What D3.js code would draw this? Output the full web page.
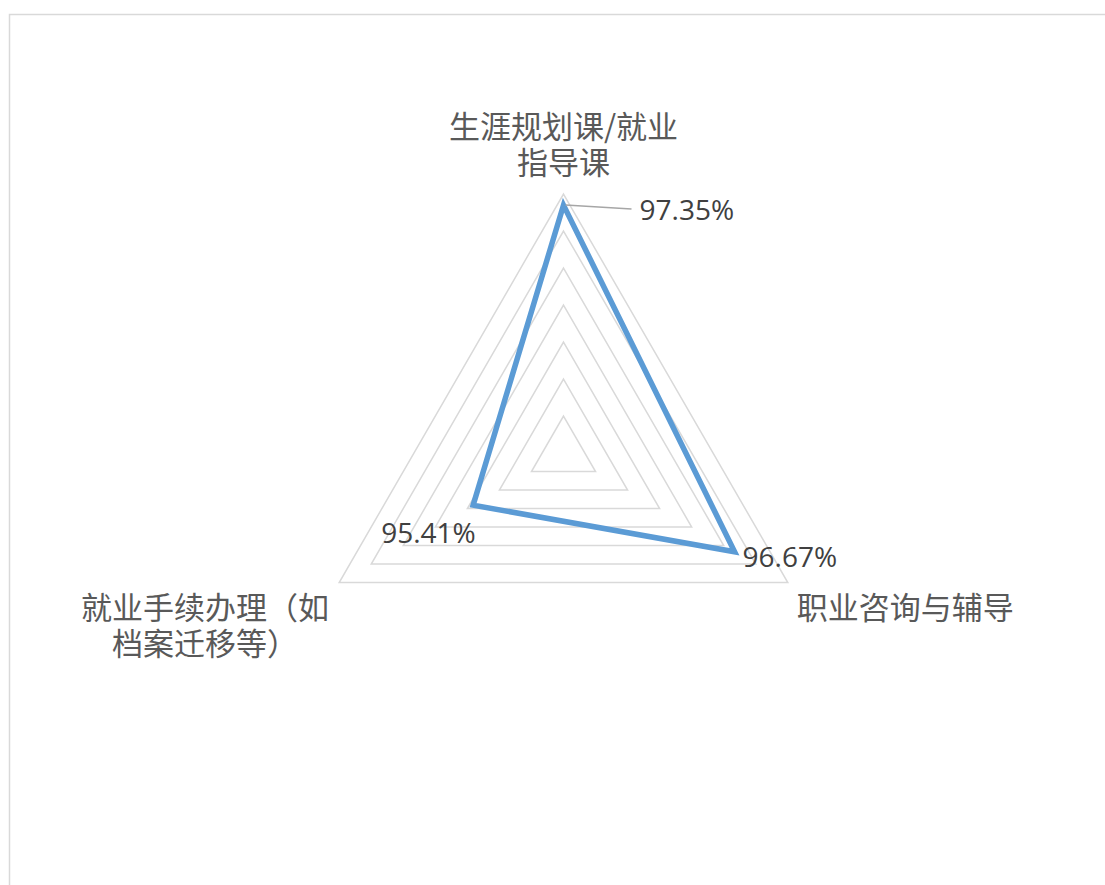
<!DOCTYPE html>
<html>
<head>
<meta charset="utf-8">
<script src="https://cdn.jsdelivr.net/npm/d3@7"></script>
<style>
  body { margin: 0; background: #fff; }
  svg { display: block; }
</style>
</head>
<body>
<svg id="chart" width="1105" height="885"></svg>
<script>
// data
const categories = ["生涯规划课/就业指导课", "职业咨询与辅导", "就业手续办理（如档案迁移等）"];
const categoryLines = [["生涯规划课/就业", "指导课"], ["职业咨询与辅导"], ["就业手续办理（如", "档案迁移等）"]];
const values = [0.9735, 0.9667, 0.9541];
const valueLabels = ["97.35%", "96.67%", "95.41%"];
const ringTicks = [0.945, 0.95, 0.955, 0.96, 0.965, 0.97, 0.975];

const svg = d3.select("#chart");
const cx = 563.5, cy = 453, R = 259;

const r = d3.scaleLinear().domain([0.94, 0.975]).range([0, R]);
const angle = i => i * 2 * Math.PI / categories.length;
const pt = (i, v) => [cx + r(v) * Math.sin(angle(i)), cy - r(v) * Math.cos(angle(i))];

// chart frame
svg.append("rect")
  .attr("x", 9.5).attr("y", 14.5)
  .attr("width", 1200).attr("height", 1000)
  .attr("fill", "none").attr("stroke", "#d9d9d9").attr("stroke-width", 1.5);

const g = svg.append("g").attr("transform", `translate(${cx},${cy})`);

// grid rings
const ringLine = d3.lineRadial().curve(d3.curveLinearClosed);
g.selectAll("path.ring")
  .data(ringTicks).enter()
  .append("path")
  .attr("class", "ring")
  .attr("d", t => ringLine(categories.map((c, i) => [angle(i), r(t)])))
  .attr("fill", "none")
  .attr("stroke", "#d9d9d9")
  .attr("stroke-width", 1.5);

// series
g.append("path")
  .datum(values)
  .attr("d", ringLine.angle((d, i) => angle(i)).radius(d => r(d)))
  .attr("fill", "none")
  .attr("stroke", "#5b9bd5")
  .attr("stroke-width", 5.5)
  .attr("stroke-linejoin", "miter");

// leader line for top label
const p0 = pt(0, values[0]);
svg.append("line")
  .attr("x1", p0[0] + 2).attr("y1", p0[1])
  .attr("x2", p0[0] + 68).attr("y2", p0[1] + 4)
  .attr("stroke", "#a6a6a6").attr("stroke-width", 1.5);

// value labels
const valueOffsets = [[76, 15], [8, 15], [-92, 38]];
svg.selectAll("text.val")
  .data(values).enter()
  .append("text")
  .attr("class", "val")
  .attr("x", (d, i) => pt(i, d)[0] + valueOffsets[i][0])
  .attr("y", (d, i) => pt(i, d)[1] + valueOffsets[i][1])
  .attr("font-family", "'Open Sans', sans-serif")
  .attr("font-size", 28)
  .attr("fill", "#404040")
  .text((d, i) => valueLabels[i]);

// category labels
const catPos = [
  { x: cx, y: cy - R - 56, anchor: "middle" },
  { x: pt(1, 0.975)[0] + 9, y: pt(1, 0.975)[1] + 36, anchor: "start" },
  { x: 205, y: pt(2, 0.975)[1] + 36, anchor: "middle" }
];
categoryLines.forEach((lines, i) => {
  lines.forEach((ln, j) => {
    svg.append("text")
      .attr("text-anchor", catPos[i].anchor)
      .attr("font-family", "'Noto Sans CJK SC', sans-serif")
      .attr("font-size", 31)
      .attr("fill", "#595959")
      .attr("x", catPos[i].x)
      .attr("y", catPos[i].y + j * 36)
      .text(ln);
  });
});
</script>
</body>
</html>
